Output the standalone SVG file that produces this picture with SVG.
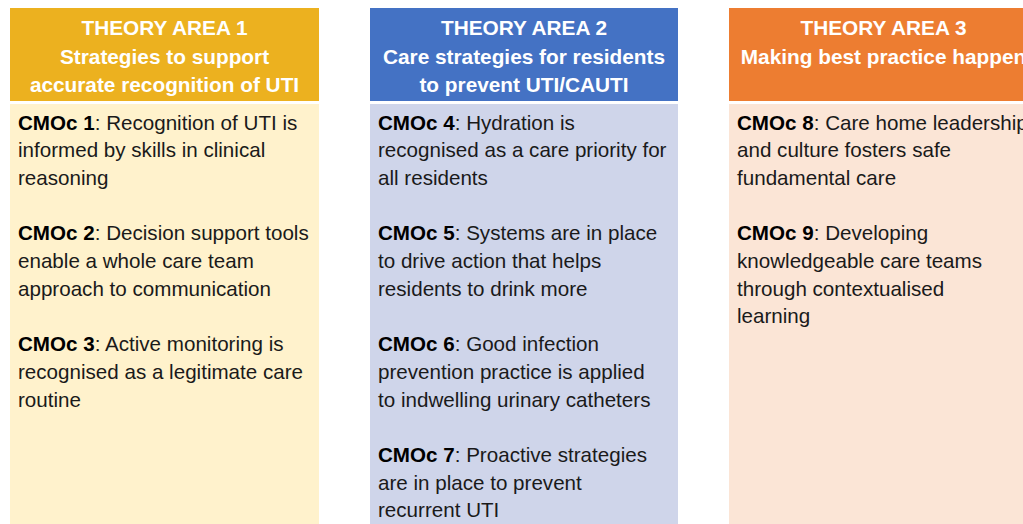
<svg xmlns="http://www.w3.org/2000/svg" width="1023" height="524" viewBox="0 0 1023 524">
<style>
.hd{font-family:"Liberation Sans",Arial,sans-serif;font-weight:bold;font-size:20.8px;fill:#ffffff;text-anchor:middle}
.bd{font-family:"Liberation Sans",Arial,sans-serif;font-size:20.6px;fill:#1a1a1a}
.b{font-weight:bold;fill:#000}
</style>
<rect x="0" y="0" width="1023" height="524" fill="#ffffff"/>
<g id="theory-area-1">
<rect x="10" y="8" width="309" height="93" fill="#ECB11F"/>
<rect x="10" y="104" width="309" height="420" fill="#FFF2CC"/>
<text class="hd"><tspan x="164.5" y="35">THEORY AREA 1</tspan><tspan x="164.5" y="63.5">Strategies to support</tspan><tspan x="164.5" y="92">accurate recognition of UTI</tspan></text>
<text class="bd"><tspan x="18" y="129.5"><tspan class="b">CMOc 1</tspan>: Recognition of UTI is</tspan><tspan x="18" y="157.2">informed by skills in clinical</tspan><tspan x="18" y="184.9">reasoning</tspan><tspan x="18" y="240.3"><tspan class="b">CMOc 2</tspan>: Decision support tools</tspan><tspan x="18" y="268">enable a whole care team</tspan><tspan x="18" y="295.7">approach to communication</tspan><tspan x="18" y="351.1"><tspan class="b">CMOc 3</tspan>: Active monitoring is</tspan><tspan x="18" y="378.8">recognised as a legitimate care</tspan><tspan x="18" y="406.5">routine</tspan></text>
</g>
<g id="theory-area-2">
<rect x="370" y="8" width="308" height="93" fill="#4472C4"/>
<rect x="370" y="104" width="308" height="420" fill="#CFD5EA"/>
<text class="hd"><tspan x="524" y="35">THEORY AREA 2</tspan><tspan x="524" y="63.5">Care strategies for residents</tspan><tspan x="524" y="92">to prevent UTI/CAUTI</tspan></text>
<text class="bd"><tspan x="378" y="129.5"><tspan class="b">CMOc 4</tspan>: Hydration is</tspan><tspan x="378" y="157.2">recognised as a care priority for</tspan><tspan x="378" y="184.9">all residents</tspan><tspan x="378" y="240.3"><tspan class="b">CMOc 5</tspan>: Systems are in place</tspan><tspan x="378" y="268">to drive action that helps</tspan><tspan x="378" y="295.7">residents to drink more</tspan><tspan x="378" y="351.1"><tspan class="b">CMOc 6</tspan>: Good infection</tspan><tspan x="378" y="378.8">prevention practice is applied</tspan><tspan x="378" y="406.5">to indwelling urinary catheters</tspan><tspan x="378" y="461.9"><tspan class="b">CMOc 7</tspan>: Proactive strategies</tspan><tspan x="378" y="489.6">are in place to prevent</tspan><tspan x="378" y="517.3">recurrent UTI</tspan></text>
</g>
<g id="theory-area-3">
<rect x="729" y="8" width="309" height="93" fill="#ED7D31"/>
<rect x="729" y="104" width="309" height="420" fill="#FBE5D6"/>
<text class="hd"><tspan x="883.5" y="35">THEORY AREA 3</tspan><tspan x="883.5" y="63.5">Making best practice happen</tspan></text>
<text class="bd"><tspan x="737" y="129.5"><tspan class="b">CMOc 8</tspan>: Care home leadership</tspan><tspan x="737" y="157.2">and culture fosters safe</tspan><tspan x="737" y="184.9">fundamental care</tspan><tspan x="737" y="240.3"><tspan class="b">CMOc 9</tspan>: Developing</tspan><tspan x="737" y="268">knowledgeable care teams</tspan><tspan x="737" y="295.7">through contextualised</tspan><tspan x="737" y="323.4">learning</tspan></text>
</g>
<g id="connectors"></g>
</svg>
